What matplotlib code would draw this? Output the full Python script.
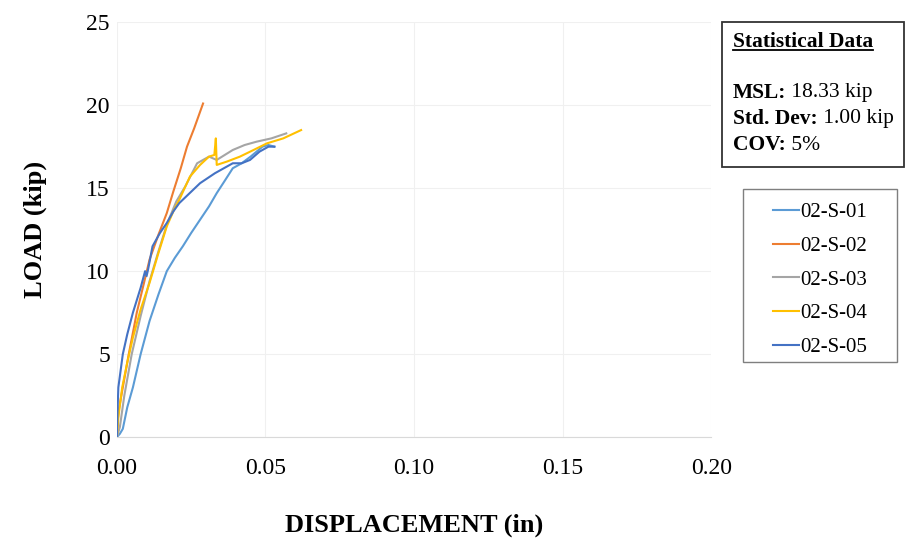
import matplotlib.pyplot as plt
from matplotlib.patches import Rectangle

plt.rcParams['font.family'] = ['Liberation Serif', 'DejaVu Serif']

# displacement (in) / load (kip)
x01 = [0.0, 0.0010, 0.0020, 0.0035, 0.0054, 0.0080, 0.0110, 0.0140, 0.0168, 0.0195, 0.0222, 0.0250, 0.0280, 0.0310, 0.0336, 0.0365, 0.0390, 0.0420, 0.0450, 0.0470, 0.0490, 0.0510, 0.0530]
y01 = [0.0, 0.2, 0.5, 1.8, 3.0, 5.0, 7.0, 8.6, 10.0, 10.8, 11.5, 12.3, 13.1, 13.9, 14.7, 15.5, 16.2, 16.5, 16.9, 17.2, 17.5, 17.6, 17.5]

x02 = [0.0, 0.0005, 0.0020, 0.0040, 0.0067, 0.0090, 0.0110, 0.0140, 0.0168, 0.0190, 0.0215, 0.0236, 0.0260, 0.0290]
y02 = [0.0, 1.5, 3.0, 5.0, 7.5, 9.2, 10.7, 12.2, 13.5, 14.8, 16.2, 17.5, 18.6, 20.1]

x03 = [0.0, 0.0010, 0.0025, 0.0050, 0.0080, 0.0110, 0.0140, 0.0170, 0.0200, 0.0230, 0.0270, 0.0310, 0.0336, 0.0390, 0.0430, 0.0470, 0.0520, 0.0570]
y03 = [0.0, 0.6, 2.5, 5.0, 7.3, 9.4, 11.2, 12.9, 14.2, 15.1, 16.5, 16.9, 16.7, 17.3, 17.6, 17.8, 18.0, 18.3]

x04 = [0.0, 0.0005, 0.0018, 0.0035, 0.0054, 0.0080, 0.0110, 0.0140, 0.0168, 0.0190, 0.0210, 0.0246, 0.0280, 0.0310, 0.0328, 0.0333, 0.0336, 0.0370, 0.0414, 0.0460, 0.0505, 0.0560, 0.0620]
y04 = [0.0, 1.2, 3.0, 4.5, 6.0, 7.7, 9.3, 11.1, 12.7, 13.6, 14.3, 15.7, 16.4, 16.9, 17.0, 18.0, 16.4, 16.6, 16.9, 17.3, 17.7, 18.0, 18.5]

x05 = [0.0, 0.0002, 0.0005, 0.0020, 0.0035, 0.0054, 0.0080, 0.0095, 0.0100, 0.0105, 0.0120, 0.0145, 0.0168, 0.0190, 0.0210, 0.0245, 0.0280, 0.0330, 0.0390, 0.0420, 0.0448, 0.0480, 0.0510, 0.0530]
y05 = [0.0, 1.5, 3.0, 5.0, 6.2, 7.5, 9.0, 10.0, 9.7, 10.1, 11.5, 12.3, 12.9, 13.6, 14.1, 14.7, 15.3, 15.9, 16.5, 16.5, 16.7, 17.2, 17.5, 17.5]

names = ['02-S-01', '02-S-02', '02-S-03', '02-S-04', '02-S-05']
colors = ['#5B9BD5', '#ED7D31', '#A5A5A5', '#FFC000', '#4472C4']
xs = [x01, x02, x03, x04, x05]
ys = [y01, y02, y03, y04, y05]

W, H = 906, 541
fig = plt.figure(figsize=(W / 100, H / 100), dpi=100)
ax = fig.add_axes([0.129, 0.192, 0.656, 0.767])

for x, y, c, n in zip(xs, ys, colors, names):
    ax.plot(x, y, color=c, lw=1.5, label=n)

ax.set_xlim(0, 0.20)
ax.set_ylim(0, 25)
ax.set_xticks([0, 0.05, 0.10, 0.15, 0.20])
ax.set_xticklabels(['0.00', '0.05', '0.10', '0.15', '0.20'])
ax.set_yticks([0, 5, 10, 15, 20, 25])
ax.tick_params(axis='x', length=0, labelsize=17, pad=15)
ax.tick_params(axis='y', length=0, labelsize=17, pad=5)
ax.grid(True, color='#F0F0F0', lw=0.8)
ax.set_axisbelow(True)
for s in ['top', 'right', 'left']:
    ax.spines[s].set_visible(False)
ax.spines['bottom'].set_color('#D9D9D9')

ax.set_xlabel('DISPLACEMENT (in)', fontsize=19, fontweight='bold', labelpad=25)
ax.set_ylabel('LOAD (kip)', fontsize=19, fontweight='bold', labelpad=28)

# legend with its own frame
leg = fig.legend(loc='upper left', bbox_to_anchor=(758 / W, 1 - 188 / H), fontsize=15,
                 frameon=False, handlelength=1.25, handletextpad=0.1,
                 labelspacing=0.68, borderpad=0.2)
fig.patches.append(Rectangle((743 / W, 1 - 362 / H), 154 / W, 173 / H,
                             transform=fig.transFigure, fill=False,
                             edgecolor='#7F7F7F', lw=1.0))

# statistical data box
fig.patches.append(Rectangle((722 / W, 1 - 167 / H), 182 / W, 145 / H,
                             transform=fig.transFigure, fill=False,
                             edgecolor='#333333', lw=1.3))
title = fig.text(733 / W, 1 - 42 / H, 'Statistical Data', fontsize=15.5,
                 fontweight='bold', va='center')
fig.canvas.draw()
tb = title.get_window_extent()
fig.lines.append(plt.Line2D([tb.x0 / W, tb.x1 / W], [1 - 50 / H, 1 - 50 / H],
                            transform=fig.transFigure, color='black', lw=1.3))
rows = [('MSL:', ' 18.33 kip'), ('Std. Dev:', ' 1.00 kip'), ('COV:', ' 5%')]
for i, (k, v) in enumerate(rows):
    yy = 1 - (93 + i * 26) / H
    t = fig.text(733 / W, yy, k, fontsize=15.5, fontweight='bold', va='center')
    fig.canvas.draw()
    bb = t.get_window_extent()
    fig.text(bb.x1 / W, yy, v, fontsize=15.5, va='center')

fig.savefig('out.png', dpi=100)
